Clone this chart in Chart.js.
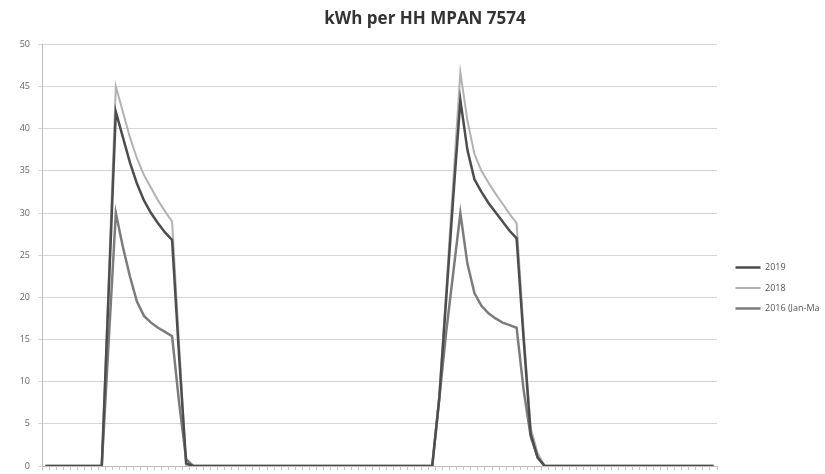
<!DOCTYPE html>
<html>
<head>
<meta charset="utf-8">
<script src="https://cdn.jsdelivr.net/npm/chart.js@4/dist/chart.umd.min.js"></script>
<style>
  html, body { margin: 0; padding: 0; background: #fff; }
  #wrap { width: 825px; height: 474px; }
</style>
</head>
<body>
<div id="wrap"><canvas id="hhChart" width="825" height="474"></canvas></div>
<script>
// ================= DATA =================

const periods = [
  "00:00","00:30","01:00","01:30","02:00","02:30","03:00","03:30",
  "04:00","04:30","05:00","05:30","06:00","06:30","07:00","07:30",
  "08:00","08:30","09:00","09:30","10:00","10:30","11:00","11:30",
  "12:00","12:30","13:00","13:30","14:00","14:30","15:00","15:30",
  "16:00","16:30","17:00","17:30","18:00","18:30","19:00","19:30",
  "20:00","20:30","21:00","21:30","22:00","22:30","23:00","23:30"
];
const days = ["Day 1", "Day 2"];

const seriesNames = ["2019", "2018", "2016 (Jan-Ma"];

// kWh per half hour
const kwh2019 = [
  0, 0, 0, 0, 0, 0, 0, 0, 0, 21, 42, 39, 36, 33.5, 31.5, 30,
  28.8, 27.7, 26.8, 13, 0.3, 0, 0, 0, 0, 0, 0, 0, 0, 0, 0, 0,
  0, 0, 0, 0, 0, 0, 0, 0, 0, 0, 0, 0, 0, 0, 0, 0,
  0, 0, 0, 0, 0, 0, 0, 0, 8, 20, 32, 43.4, 37.5, 34, 32.5, 31.2,
  30.1, 29, 27.9, 27, 15, 3.8, 1, 0, 0, 0, 0, 0, 0, 0, 0, 0,
  0, 0, 0, 0, 0, 0, 0, 0, 0, 0, 0, 0, 0, 0, 0, 0
];
const kwh2018 = [
  0, 0, 0, 0, 0, 0, 0, 0, 0, 22.5, 45, 42, 39, 36.5, 34.5, 33,
  31.5, 30.2, 29, 14.5, 0, 0, 0, 0, 0, 0, 0, 0, 0, 0, 0, 0,
  0, 0, 0, 0, 0, 0, 0, 0, 0, 0, 0, 0, 0, 0, 0, 0,
  0, 0, 0, 0, 0, 0, 0, 0, 8.5, 21, 34, 46.7, 41, 37, 35, 33.6,
  32.3, 31.1, 29.9, 28.8, 16, 4.5, 1.5, 0, 0, 0, 0, 0, 0, 0, 0, 0,
  0, 0, 0, 0, 0, 0, 0, 0, 0, 0, 0, 0, 0, 0, 0, 0
];
const kwh2016 = [
  0, 0, 0, 0, 0, 0, 0, 0, 0, 15, 30, 26, 22.5, 19.5, 17.8, 17,
  16.4, 15.9, 15.4, 7.5, 0.8, 0, 0, 0, 0, 0, 0, 0, 0, 0, 0, 0,
  0, 0, 0, 0, 0, 0, 0, 0, 0, 0, 0, 0, 0, 0, 0, 0,
  0, 0, 0, 0, 0, 0, 0, 0, 8, 16, 23, 30, 24, 20.5, 19, 18.1,
  17.5, 17, 16.7, 16.4, 9, 3.5, 1, 0, 0, 0, 0, 0, 0, 0, 0, 0,
  0, 0, 0, 0, 0, 0, 0, 0, 0, 0, 0, 0, 0, 0, 0, 0
];

const yTicks = [0, 5, 10, 15, 20, 25, 30, 35, 40, 45, 50];

// ================= CHART =================

const labels = [];
days.forEach(d => periods.forEach(p => labels.push(d + " " + p)));

// nudge title and legend sideways like the Excel layout
const nudge = {
  id: "nudge",
  afterLayout(chart) {
    chart.titleBlock.left += 9;
    chart.titleBlock.right += 9;
    chart.legend.left += 7;
    chart.legend.right += 7;
  }
};

new Chart(document.getElementById("hhChart"), {
  type: "line",
  data: {
    labels: labels,
    datasets: [
      { label: seriesNames[0], data: kwh2019, borderColor: "#4d4d4d", backgroundColor: "#4d4d4d", borderWidth: 2.5 },
      { label: seriesNames[1], data: kwh2018, borderColor: "#b2b2b2", backgroundColor: "#b2b2b2", borderWidth: 2 },
      { label: seriesNames[2], data: kwh2016, borderColor: "#7c7c7c", backgroundColor: "#7c7c7c", borderWidth: 2.5 }
    ]
  },
  plugins: [nudge],
  options: {
    responsive: false,
    animation: false,
    elements: { point: { radius: 0 }, line: { tension: 0 } },
    layout: { padding: { left: 14, right: 7, top: 0, bottom: 0 } },
    plugins: {
      title: {
        display: true,
        text: "kWh per HH MPAN 7574",
        color: "#333",
        font: { family: "'Open Sans', sans-serif", size: 17, weight: "bold" },
        padding: { top: 9, bottom: 15 }
      },
      legend: {
        position: "right",
        align: "center",
        maxWidth: 101,
        title: { display: true, text: " ", font: { size: 10 }, padding: { top: 90, bottom: 0 } },
        labels: {
          usePointStyle: true,
          pointStyle: "line",
          pointStyleWidth: 25,
          boxHeight: 9,
          padding: 11.5,
          color: "#555",
          font: { family: "'Open Sans', sans-serif", size: 9 }
        }
      },
      tooltip: { enabled: false }
    },
    scales: {
      x: {
        type: "category",
        offset: true,
        ticks: { display: false },
        grid: { drawOnChartArea: false, drawTicks: true, tickLength: 4, color: "#c4c4c4", offset: true },
        border: { color: "#bdbdbd" },
        afterFit: s => { s.height = 8; }
      },
      y: {
        min: 0,
        max: 50,
        afterBuildTicks: s => { s.ticks = yTicks.map(v => ({ value: v })); },
        ticks: {
          color: "#666",
          padding: 8,
          font: { family: "'Open Sans', sans-serif", size: 9 }
        },
        grid: { color: "#d6d6d6", tickLength: 4 },
        border: { color: "#bdbdbd" },
        afterFit: s => { s.width = 28; s.paddingTop = 0; s.paddingBottom = 0; }
      }
    }
  }
});
</script>
</body>
</html>
